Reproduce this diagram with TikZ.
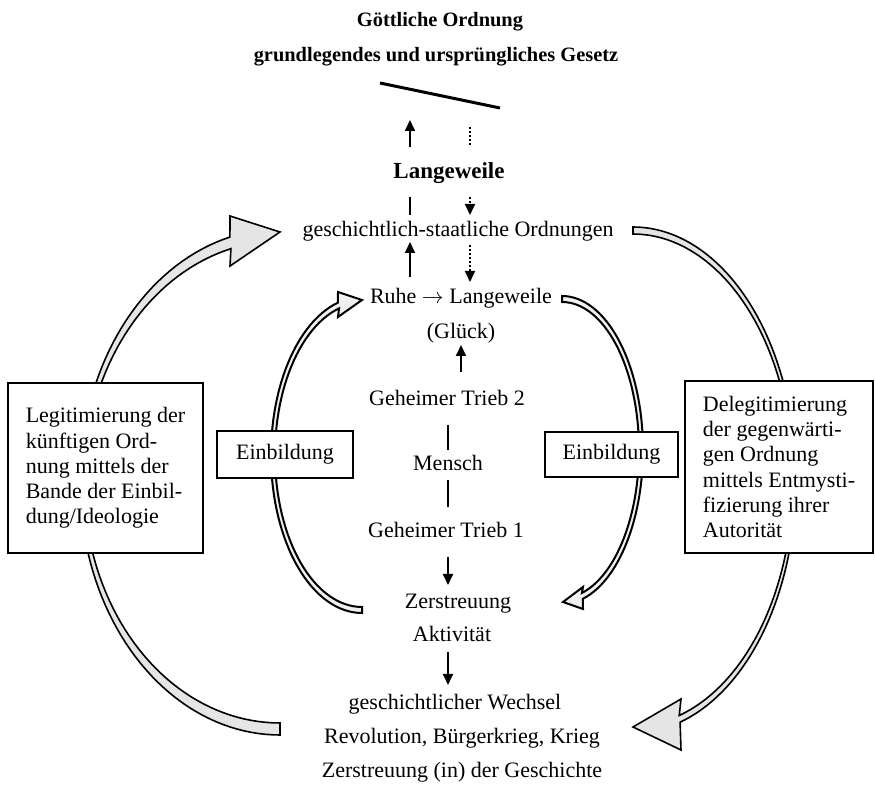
\documentclass[tikz,border=0pt]{standalone}
\usepackage{fontspec}
\setmainfont{Liberation Serif}
\usetikzlibrary{arrows.meta,calc}
\begin{document}
\begin{tikzpicture}[x=0.5pt,y=-0.5pt,
  txt/.style={font=\fontsize{11}{12.6}\selectfont, inner sep=0pt, text height=7.5pt, text depth=2.4pt},
  btxt/.style={font=\fontsize{10.2}{13}\selectfont\bfseries, inner sep=0pt, text height=7.5pt, text depth=2.4pt},
  arr/.style={line width=1pt, -{Triangle[width=5pt,length=5.5pt]}},
  dotarr/.style={line width=1pt, dash pattern=on 1pt off 1pt, -{Triangle[width=5pt,length=5.5pt]}},
  dotline/.style={line width=1pt, dash pattern=on 1pt off 1pt},
  plainline/.style={line width=1pt},
  bigarrow/.style={draw=black, line width=0.8pt, fill=gray!20, line join=miter},
  smallarrow/.style={draw=black, line width=1pt, fill=gray!12, line join=miter},
  box/.style={draw, line width=1pt, fill=white, font=\fontsize{11}{12.6}\selectfont, align=left}
]
\useasboundingbox (0,0) rectangle (875,785);

% big left arrow
\filldraw[bigarrow]
  plot[domain=90:255.5, samples=80, variable=\t] ({280+200*cos(\t)},{482+253*sin(\t)})
  -- (230,216) -- (280,232) -- (230,266)
  -- plot[domain=255.5:90, samples=80, variable=\t] ({280+196*cos(\t)},{482+241*sin(\t)})
  -- cycle;
% big right arrow
\filldraw[bigarrow]
  plot[domain=270:433.2, samples=80, variable=\t] ({633+163*cos(\t)},{480+253*sin(\t)})
  -- (681,750) -- (633,727) -- (681,699)
  -- plot[domain=433.2:270, samples=80, variable=\t] ({633+160*cos(\t)},{480+246*sin(\t)})
  -- cycle;
% inner left arrow
\filldraw[smallarrow]
  plot[domain=90:254.7, samples=60, variable=\t] ({362+91*cos(\t)},{455+158*sin(\t)})
  -- (338,292) -- (362,300) -- (338,317)
  -- plot[domain=254.7:90, samples=60, variable=\t] ({362+87*cos(\t)},{455+152*sin(\t)})
  -- cycle;
% inner right arrow
\filldraw[smallarrow]
  plot[domain=270:435, samples=60, variable=\t] ({562+81*cos(\t)},{450+154*sin(\t)})
  -- (583,609) -- (563,602) -- (583,587)
  -- plot[domain=435:270, samples=60, variable=\t] ({562+77*cos(\t)},{450+148*sin(\t)})
  -- cycle;

% boxes
\node[box, minimum width=97.5pt, minimum height=85pt] (lbox) at (105.5,468)
  {Legitimierung der\\künftigen Ord-\\nung mittels der\\Bande der Einbil-\\dung/Ideologie};
\node[box, minimum width=94pt, minimum height=86pt] (rbox) at (779,467)
  {Delegitimierung\\der gegenwärti-\\gen Ordnung\\mittels Entmysti-\\fizierung ihrer\\Autorität};
\node[box, align=center, inner sep=0pt, minimum width=68pt, minimum height=23.5pt] (lein) at (285,454.5) {Einbildung};
\node[box, align=center, inner sep=0pt, minimum width=66.5pt, minimum height=22.5pt] (rein) at (611.5,454.5) {Einbildung};

% texts
\node[btxt] (god) at (440,21) {Göttliche Ordnung};
\node[btxt] (law) at (436,56) {grundlegendes und ursprüngliches Gesetz};
\node[btxt, font=\fontsize{11.5}{13}\selectfont\bfseries] (lw) at (449,173) {Langeweile};
\node[txt] (ord) at (458,231) {geschichtlich-staatliche Ordnungen};
\node[txt] (ruhe) at (461,298) {Ruhe $\rightarrow$ Langeweile};
\node[txt] (glueck) at (461,333) {(Glück)};
\node[txt] (gt2) at (447,400) {Geheimer Trieb 2};
\node[txt] (mensch) at (448,465) {Mensch};
\node[txt] (gt1) at (446,532) {Geheimer Trieb 1};
\node[txt] (zer) at (458,603) {Zerstreuung};
\node[txt] (akt) at (452,636) {Aktivität};
\node[txt] (wech) at (455,704) {geschichtlicher Wechsel};
\node[txt] (rev) at (462,738) {Revolution, Bürgerkrieg, Krieg};
\node[txt] (zg) at (462,772) {Zerstreuung (in) der Geschichte};

% slanted line
\coordinate (s1) at (380,83);
\coordinate (s2) at (500,108);
\draw[line width=1.5pt] (s1) -- (s2);

% coordinates for vertical connectors
\coordinate (a1s) at (410,147); \coordinate (a1e) at (410,120);
\coordinate (d1s) at (470,145); \coordinate (d1e) at (470,125);
\coordinate (a2s) at (410,215); \coordinate (a2e) at (410,197);
\coordinate (d2s) at (470,197); \coordinate (d2e) at (470,215);
\coordinate (a3s) at (410,277); \coordinate (a3e) at (410,242);
\coordinate (d3s) at (470,245); \coordinate (d3e) at (470,282);
\coordinate (a4s) at (461,372); \coordinate (a4e) at (461,345);
\coordinate (l1s) at (448,425); \coordinate (l1e) at (448,450);
\coordinate (l2s) at (448,480); \coordinate (l2e) at (448,507);
\coordinate (a5s) at (448,557); \coordinate (a5e) at (448,585);
\coordinate (a6s) at (448,652); \coordinate (a6e) at (448,685);

\draw[arr] (a1s) -- (a1e);
\draw[dotline] (d1s) -- (d1e);
\draw[plainline] (a2s) -- (a2e);
\draw[dotarr] (d2s) -- (d2e);
\draw[arr] (a3s) -- (a3e);
\draw[dotarr] (d3s) -- (d3e);
\draw[arr] (a4s) -- (a4e);
\draw[plainline] (l1s) -- (l1e);
\draw[plainline] (l2s) -- (l2e);
\draw[arr] (a5s) -- (a5e);
\draw[arr] (a6s) -- (a6e);
\end{tikzpicture}
\end{document}
